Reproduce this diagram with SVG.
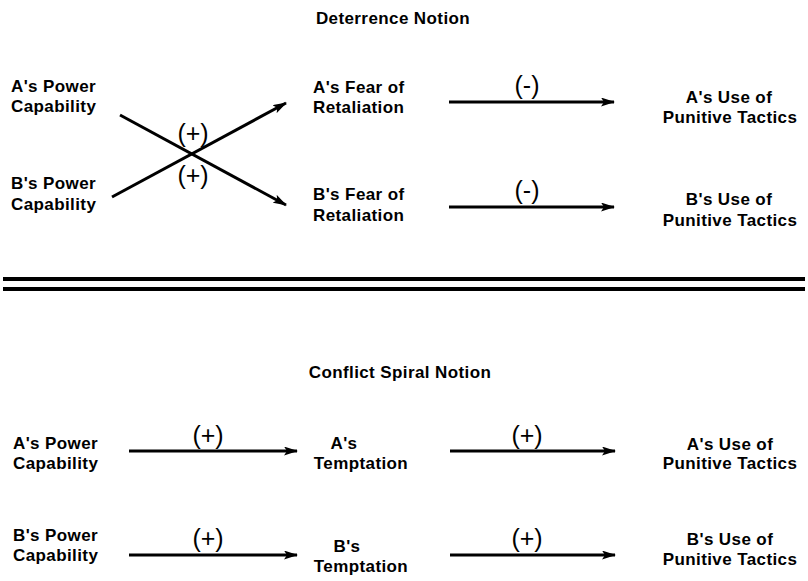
<svg xmlns="http://www.w3.org/2000/svg" width="808" height="581" viewBox="0 0 808 581">
<style>
.t{font-family:"Liberation Sans",Arial,Helvetica,sans-serif;font-weight:bold;font-size:17px;fill:#000;letter-spacing:0.4px}
.m{text-anchor:middle}
.s{font-family:"Liberation Sans",Arial,Helvetica,sans-serif;font-size:25px;fill:#000;text-anchor:middle}
.c{stroke:#000;stroke-width:3;fill:none}
.d{stroke:#000;stroke-width:4;fill:none}
</style>
<defs>
<marker id="ah" viewBox="0 0 14 9" refX="13" refY="4.5" markerWidth="14" markerHeight="9" markerUnits="userSpaceOnUse" orient="auto">
<path d="M0,0 L14,4.5 L0,9 L3,4.5 Z" fill="#000"/>
</marker>
</defs>
<rect width="808" height="581" fill="#fff"/>
<text class="t m" x="393" y="24">Deterrence Notion</text>
<text class="t m" x="400" y="378">Conflict Spiral Notion</text>
<g id="d-apower"><text class="t" x="11" y="92">A's Power</text><text class="t" x="11" y="112">Capability</text></g>
<g id="d-bpower"><text class="t" x="11" y="189">B's Power</text><text class="t" x="11" y="210">Capability</text></g>
<g id="d-afear"><text class="t" x="313" y="93">A's Fear of</text><text class="t" x="313" y="113">Retaliation</text></g>
<g id="d-bfear"><text class="t" x="313" y="200">B's Fear of</text><text class="t" x="313" y="221">Retaliation</text></g>
<g id="d-ause"><text class="t m" x="729" y="103">A's Use of</text><text class="t m" x="730" y="123">Punitive Tactics</text></g>
<g id="d-buse"><text class="t m" x="729" y="205">B's Use of</text><text class="t m" x="730" y="226">Punitive Tactics</text></g>
<g id="c-apower"><text class="t" x="13" y="449">A's Power</text><text class="t" x="13" y="469">Capability</text></g>
<g id="c-bpower"><text class="t" x="13" y="541">B's Power</text><text class="t" x="13" y="561">Capability</text></g>
<g id="c-atempt"><text class="t m" x="344" y="449">A's</text><text class="t m" x="361" y="469">Temptation</text></g>
<g id="c-btempt"><text class="t m" x="347" y="552">B's</text><text class="t m" x="361" y="572">Temptation</text></g>
<g id="c-ause"><text class="t m" x="730" y="450">A's Use of</text><text class="t m" x="730" y="469">Punitive Tactics</text></g>
<g id="c-buse"><text class="t m" x="730" y="545">B's Use of</text><text class="t m" x="730" y="565">Punitive Tactics</text></g>
<g id="connectors">
<line class="c" x1="120" y1="115" x2="286" y2="205" marker-end="url(#ah)"/>
<line class="c" x1="112" y1="197" x2="286" y2="103" marker-end="url(#ah)"/>
<line class="c" x1="449" y1="102" x2="614" y2="102" marker-end="url(#ah)"/>
<line class="c" x1="449" y1="207" x2="614" y2="207" marker-end="url(#ah)"/>
<line class="c" x1="129" y1="451" x2="297" y2="451" marker-end="url(#ah)"/>
<line class="c" x1="450" y1="451" x2="615" y2="451" marker-end="url(#ah)"/>
<line class="c" x1="129" y1="555" x2="297" y2="555" marker-end="url(#ah)"/>
<line class="c" x1="450" y1="555" x2="615" y2="555" marker-end="url(#ah)"/>
<text class="s" x="193" y="142">(+)</text>
<text class="s" x="193" y="184">(+)</text>
<text class="s" x="527" y="94">(-)</text>
<text class="s" x="527" y="199">(-)</text>
<text class="s" x="208" y="444">(+)</text>
<text class="s" x="527" y="444">(+)</text>
<text class="s" x="208" y="547">(+)</text>
<text class="s" x="527" y="547">(+)</text>
</g>
<line class="d" x1="3" y1="279" x2="805" y2="279"/>
<line class="d" x1="3" y1="289" x2="805" y2="289"/>
</svg>
